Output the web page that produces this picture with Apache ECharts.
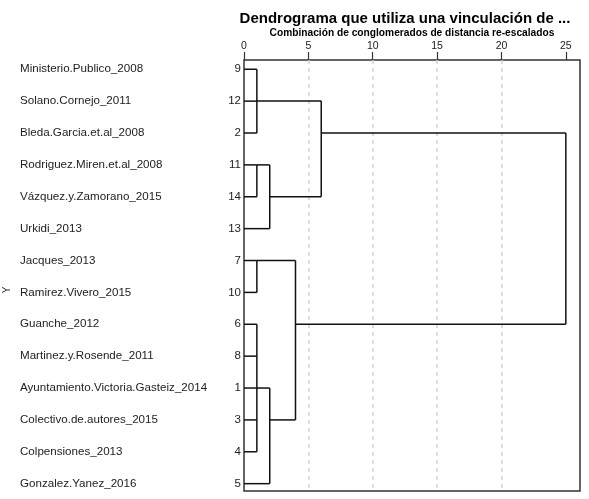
<!DOCTYPE html>
<html>
<head>
<meta charset="utf-8">
<script src="https://cdn.jsdelivr.net/npm/echarts@6/dist/echarts.min.js"></script>
<style>
  html, body { margin: 0; padding: 0; background: #fff; }
  #chart { width: 589px; height: 499px; }
</style>
</head>
<body>
<div id="chart"></div>
<script>
// casos en el orden del dendrograma (de arriba abajo)
const caseNames = [
  'Ministerio.Publico_2008',
  'Solano.Cornejo_2011',
  'Bleda.Garcia.et.al_2008',
  'Rodriguez.Miren.et.al_2008',
  'Vázquez.y.Zamorano_2015',
  'Urkidi_2013',
  'Jacques_2013',
  'Ramirez.Vivero_2015',
  'Guanche_2012',
  'Martinez.y.Rosende_2011',
  'Ayuntamiento.Victoria.Gasteiz_2014',
  'Colectivo.de.autores_2015',
  'Colpensiones_2013',
  'Gonzalez.Yanez_2016'
];
const caseNumbers = [9, 12, 2, 11, 14, 13, 7, 10, 6, 8, 1, 3, 4, 5];

// pasos de fusión: casos (número) o conglomerados previos ('m' + paso)
const mergeJoins = [
  [9, 12, 2],
  [11, 14],
  ['m1', 13],
  [7, 10],
  [6, 8, 1, 3, 4],
  ['m4', 5],
  ['m3', 'm5'],
  ['m0', 'm2'],
  ['m6', 'm7']
];
const mergeDistances = [1, 1, 2, 1, 1, 2, 4, 6, 25];

const xTicks = [0, 5, 10, 15, 20, 25];
const rowIndex = caseNumbers.map((c, i) => i);

const FONT = 'Liberation Sans, Arial, sans-serif';

// segmentos del dendrograma [x0, fila0, x1, fila1]
function buildSegments() {
  const nodes = {};
  caseNumbers.forEach((c, i) => { nodes[c] = { row: i, dist: 0 }; });
  const segs = [];
  mergeJoins.forEach((members, k) => {
    const d = mergeDistances[k];
    const kids = members.map(m => nodes[m]);
    kids.forEach(n => segs.push([n.dist, n.row, d, n.row]));
    const rows = kids.map(n => n.row);
    const lo = Math.min(...rows), hi = Math.max(...rows);
    segs.push([d, lo, d, hi]);
    // SPSS sigue la línea del nuevo conglomerado en la fila central
    nodes['m' + k] = { row: Math.floor((lo + hi) / 2), dist: d };
  });
  return segs;
}

const chart = echarts.init(document.getElementById('chart'));

const yBase = {
  type: 'value',
  inverse: true,
  min: -0.29,
  max: 13.23,
  position: 'left',
  axisLine: { show: false, onZero: false },
  axisTick: { show: false },
  splitLine: { show: false }
};

chart.setOption({
  backgroundColor: '#fff',
  animation: false,
  title: {
    text: 'Dendrograma que utiliza una vinculación de ...',
    left: 405,
    top: 11,
    textAlign: 'center',
    padding: 0,
    textStyle: { fontFamily: FONT, fontSize: 15, fontWeight: 'bold', color: '#000' }
  },
  grid: {
    left: 244, right: 9, top: 60, bottom: 8,
    outerBoundsMode: 'none',
    containLabel: false,
    show: true, borderColor: '#333', borderWidth: 1.5, backgroundColor: 'transparent'
  },
  xAxis: {
    type: 'value',
    position: 'top',
    min: 0,
    max: 26.1,
    name: 'Combinación de conglomerados de distancia re-escalados',
    nameLocation: 'middle',
    nameGap: 22,
    nameMoveOverlap: false,
    nameTextStyle: { fontFamily: FONT, fontSize: 10.2, fontWeight: 'bold', color: '#000' },
    axisLine: { show: false, onZero: false },
    axisTick: { show: true, inside: false, length: 8, customValues: xTicks, lineStyle: { color: '#333', width: 1.2 } },
    axisLabel: { customValues: xTicks, margin: 8, fontFamily: FONT, fontSize: 10.5, color: '#222' },
    splitLine: { show: true, showMinLine: false, showMaxLine: false, lineStyle: { color: '#d2d2d2', type: [4, 4], width: 1.5 } }
  },
  yAxis: [
    Object.assign({}, yBase, {
      axisLabel: {
        customValues: rowIndex,
        margin: 3,
        fontFamily: FONT, fontSize: 11.5, color: '#222',
        formatter: v => caseNumbers[Math.round(v)]
      }
    }),
    Object.assign({}, yBase, {
      name: 'Y',
      nameLocation: 'middle',
      nameGap: 232,
      nameRotate: 90,
      nameMoveOverlap: false,
      nameTextStyle: { fontFamily: FONT, fontSize: 10, color: '#333', padding: [0, 29, 0, 0] },
      axisLabel: {
        customValues: rowIndex,
        margin: 224,
        align: 'left',
        fontFamily: FONT, fontSize: 11.6, color: '#222',
        formatter: v => caseNames[Math.round(v)]
      }
    })
  ],
  series: [{
    type: 'custom',
    xAxisIndex: 0,
    yAxisIndex: 0,
    data: buildSegments(),
    encode: { x: [0, 2], y: [1, 3] },
    renderItem: function (params, api) {
      const p0 = api.coord([api.value(0), api.value(1)]);
      const p1 = api.coord([api.value(2), api.value(3)]);
      return {
        type: 'line',
        shape: { x1: p0[0], y1: p0[1], x2: p1[0], y2: p1[1] },
        style: { stroke: '#111', lineWidth: 1.5 }
      };
    }
  }]
});
</script>
</body>
</html>
